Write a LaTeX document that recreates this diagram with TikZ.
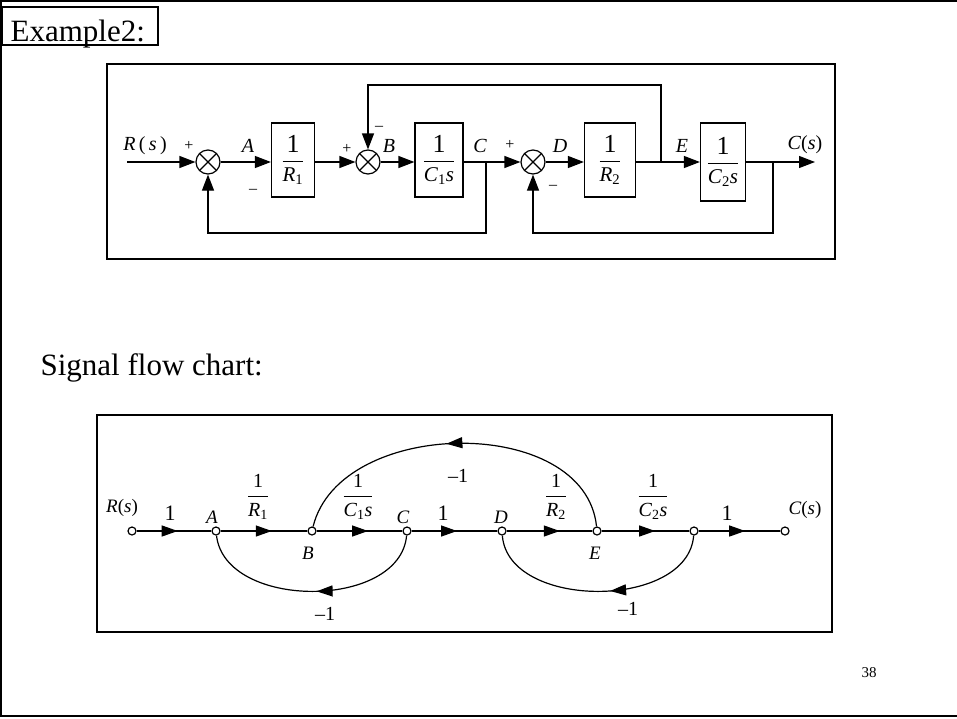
\documentclass[tikz,border=0pt]{standalone}
\usepackage{amsmath}
\usepackage{fontspec}
\setmainfont{Liberation Serif}
\usepackage{tikz}
\usetikzlibrary{arrows.meta, positioning, calc, decorations.markings}

\newcommand{\gain}[2]{$\dfrac{\mbox{#1}}{\mbox{#2}}$}
\newcommand{\bgain}[2]{$\dfrac{\mbox{\fontsize{26}{28}\selectfont #1}}{\mbox{#2}}$}

\begin{document}
\begin{tikzpicture}[x=1pt,y=-1pt,line width=1.2pt,
  >={Triangle[length=16pt,width=12pt]},
  blockbox/.style={draw,minimum height=74pt,inner sep=2pt,
                   font=\fontsize{21}{23}\selectfont},
  sumnode/.style={draw,circle,minimum size=24pt,inner sep=0pt,
                  path picture={\draw (path picture bounding box.south west) -- (path picture bounding box.north east)
                                      (path picture bounding box.north west) -- (path picture bounding box.south east);}},
  sign/.style={font=\fontsize{16}{16}\selectfont,inner sep=0pt},
  lbl/.style={font=\fontsize{20}{22}\selectfont\itshape,inner sep=0pt},
  sfnode/.style={draw,circle,fill=white,minimum size=8pt,inner sep=0pt},
  sflbl/.style={font=\fontsize{19}{21}\selectfont\itshape,inner sep=0pt},
  wgt/.style={font=\fontsize{22}{24}\selectfont,inner sep=0pt},
  frac/.style={font=\fontsize{20}{22}\selectfont,inner sep=0pt},
  flow/.style={postaction={decorate},
               decoration={markings,mark=at position #1 with {\arrow{Triangle[length=16pt,width=11pt]}}}},
  flow/.default=0.6]
\useasboundingbox (0,0) rectangle (957,718);

% ===== page frame + titles =====
\draw[line width=1.8pt] (957,1) -- (1,1) -- (1,716) -- (957,716);
\draw (2,7) rectangle (158,45);
\node[anchor=base west,inner sep=0pt,font=\fontsize{31}{33}\selectfont] (title) at (10,41) {Example2:};
\node[anchor=base west,inner sep=0pt,font=\fontsize{31}{33}\selectfont] (sfc) at (40,375) {Signal flow chart:};
\node[anchor=base,inner sep=0pt,font=\fontsize{15}{17}\selectfont] (page) at (869,677) {38};

% ===== BLOCK DIAGRAM =====
\draw (107,64) rectangle (835,259);
\coordinate (in) at (127,162);
\node[sumnode] (s1) at (208,162) {};
\node[blockbox,minimum width=43pt] (g1) at (293,160) {\bgain{1}{\textit{R}\textsubscript{1}}};
\node[sumnode] (s2) at (368,162) {};
\node[blockbox,minimum width=48pt] (g2) at (439,160) {\bgain{1}{\textit{C}\textsubscript{1}\textit{s}}};
\node[sumnode] (s3) at (533,162) {};
\node[blockbox,minimum width=51pt] (g3) at (610,160) {\bgain{1}{\textit{R}\textsubscript{2}}};
\node[blockbox,minimum width=45pt,minimum height=78pt] (g4) at (723,162) {\bgain{1}{\textit{C}\textsubscript{2}\textit{s}}};
\coordinate (out) at (815,162);
\coordinate (bC) at (486,162);
\coordinate (bE) at (661,162);
\coordinate (bY) at (773,162);

\draw[->] (in) -- (s1);
\draw[->] (s1) -- (s1 -| g1.west);
\draw[->] (s1 -| g1.east) -- (s2);
\draw[->] (s2) -- (s2 -| g2.west);
\draw[->] (s2 -| g2.east) -- (s3);
\draw[->] (s3) -- (s3 -| g3.west);
\draw[->] (s3 -| g3.east) -- (s3 -| g4.west);
\draw[->] (s3 -| g4.east) -- (out);
\draw[->] (bC) -- ++(0,71) -| (s1);
\draw[->] (bE) -- ++(0,-77) -| (s2);
\draw[->] (bY) -- ++(0,71) -| (s3);

\node[lbl] (lR) at (145,146) {R\,\textup{(}\,s\,\textup{)}};
\node[lbl] (lA) at (248,146) {A};
\node[lbl] (lB) at (389,146) {B};
\node[lbl] (lC) at (480,146) {C};
\node[lbl] (lD) at (560,146) {D};
\node[lbl] (lE) at (682,146) {E};
\node[lbl] (lY) at (805,145) {C\textup{(}s\textup{)}};
\node[sign] (p1) at (189,146) {+};
\node[sign] (m1) at (253,191) {--};
\node[sign] (p2) at (347,149) {+};
\node[sign] (m2) at (379,128) {--};
\node[sign] (p3) at (510,145) {+};
\node[sign] (m3) at (553,187) {--};

% ===== SIGNAL FLOW GRAPH =====
\draw (97,415) rectangle (832,632);
\node[sfnode] (nR) at (132,531) {};
\node[sfnode] (nA) at (216,531) {};
\node[sfnode] (nB) at (312,531) {};
\node[sfnode] (nC) at (407,531) {};
\node[sfnode] (nD) at (502,531) {};
\node[sfnode] (nE) at (597,531) {};
\node[sfnode] (nF) at (694,531) {};
\node[sfnode] (nY) at (785,531) {};

\draw[flow=0.55] (nR) -- (nA);
\draw[flow=0.59] (nA) -- (nB);
\draw[flow=0.6] (nB) -- (nC);
\draw[flow=0.53] (nC) -- (nD);
\draw[flow=0.62] (nD) -- (nE);
\draw[flow=0.61] (nE) -- (nF);
\draw[flow=0.57] (nF) -- (nY);
\draw[flow=0.53] (nE) .. controls (585,414) and (340,417) .. (nB);
\draw[flow=0.48] (nC) .. controls (400,610) and (225,610) .. (nA);
\draw[flow=0.45] (nF) .. controls (688,610) and (508,610) .. (nD);

\node[sflbl] (tR) at (122,508) {R\textup{(}s\textup{)}};
\node[wgt] (w1) at (170,513) {1};
\node[sflbl] (tA) at (212,517) {A};
\node[frac] (f1) at (258,497) {\gain{1}{\textit{R}\textsubscript{1}}};
\node[sflbl] (tB) at (308,553) {B};
\node[frac] (f2) at (358,497) {\gain{1}{\textit{C}\textsubscript{1}\textit{s}}};
\node[sflbl] (tC) at (403,517) {C};
\node[wgt] (w2) at (443,513) {1};
\node[sflbl] (tD) at (501,517) {D};
\node[frac] (f3) at (556,497) {\gain{1}{\textit{R}\textsubscript{2}}};
\node[sflbl] (tE) at (595,553) {E};
\node[frac] (f4) at (653,497) {\gain{1}{\textit{C}\textsubscript{2}\textit{s}}};
\node[wgt] (w3) at (727,513) {1};
\node[sflbl] (tY) at (805,510) {C\textup{(}s\textup{)}};
\node[frac] (k1) at (458,476) {--1};
\node[frac] (k2) at (325,614) {--1};
\node[frac] (k3) at (628,609) {--1};
\end{tikzpicture}
\end{document}
